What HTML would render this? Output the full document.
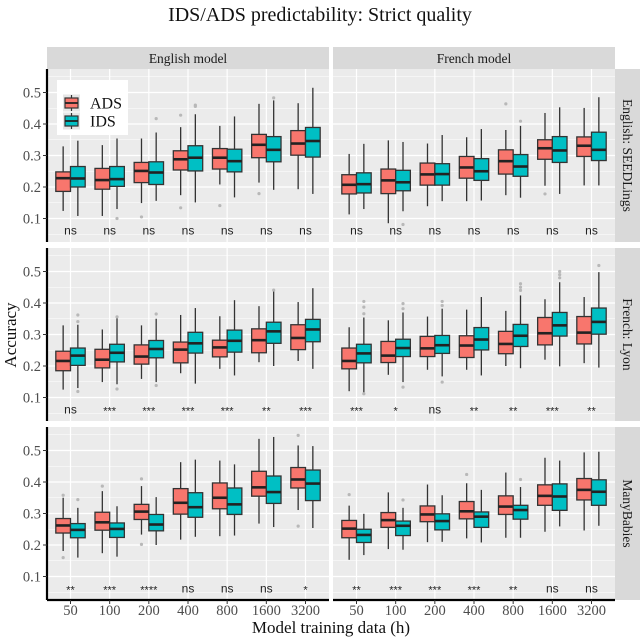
<!DOCTYPE html>
<html><head><meta charset="utf-8"><style>
html,body{margin:0;padding:0;background:#fff}
svg{display:block}
text{font-family:"Liberation Serif",serif}
</style></head><body>
<svg id="chart" width="640" height="640" viewBox="0 0 640 640" xmlns="http://www.w3.org/2000/svg">
<text x="320" y="21" font-size="20" text-anchor="middle" fill="#111">IDS/ADS predictability: Strict quality</text>
<text x="331" y="633" font-size="17" text-anchor="middle" fill="#111">Model training data (h)</text>
<text transform="translate(16,335) rotate(-90)" font-size="17" text-anchor="middle" fill="#111">Accuracy</text>
</svg>
<script>
const categories = ["50","100","200","400","800","1600","3200"];
const yTicks = [0.1,0.2,0.3,0.4,0.5];
const yTickLabels = ["0.1","0.2","0.3","0.4","0.5"];
const colLabels = ["English model","French model"];
const rowLabels = ["English: SEEDLings","French: Lyon","ManyBabies"];
// [low whisker, q1, median, q3, high whisker]
const seedEngADS = [[0.124,0.186,0.228,0.248,0.329],[0.108,0.193,0.222,0.259,0.333],[0.149,0.214,0.251,0.278,0.354],[0.174,0.254,0.288,0.315,0.39],[0.208,0.257,0.293,0.322,0.394],[0.214,0.293,0.334,0.367,0.464],[0.193,0.301,0.338,0.379,0.466]];
const seedEngIDS = [[0.108,0.2,0.227,0.265,0.347],[0.13,0.202,0.225,0.265,0.354],[0.156,0.208,0.246,0.28,0.373],[0.151,0.251,0.293,0.331,0.431],[0.167,0.248,0.282,0.32,0.424],[0.191,0.28,0.318,0.36,0.475],[0.178,0.295,0.346,0.389,0.515]];
const seedFreADS = [[0.113,0.178,0.207,0.239,0.305],[0.085,0.179,0.221,0.257,0.348],[0.139,0.206,0.24,0.276,0.338],[0.155,0.228,0.262,0.297,0.358],[0.174,0.241,0.282,0.318,0.381],[0.204,0.288,0.323,0.35,0.435],[0.205,0.297,0.331,0.359,0.451]];
const seedFreIDS = [[0.13,0.181,0.209,0.245,0.337],[0.123,0.188,0.215,0.253,0.343],[0.155,0.206,0.241,0.274,0.365],[0.157,0.221,0.25,0.29,0.384],[0.166,0.234,0.265,0.303,0.394],[0.178,0.278,0.316,0.36,0.453],[0.205,0.284,0.318,0.374,0.485]];
const lyonEngADS = [[0.125,0.185,0.216,0.247,0.329],[0.149,0.194,0.22,0.253,0.316],[0.159,0.206,0.23,0.267,0.329],[0.177,0.21,0.252,0.276,0.362],[0.191,0.229,0.259,0.282,0.358],[0.212,0.242,0.282,0.318,0.39],[0.216,0.252,0.289,0.331,0.403]];
const lyonEngIDS = [[0.13,0.202,0.233,0.257,0.331],[0.142,0.213,0.242,0.269,0.354],[0.149,0.226,0.254,0.281,0.35],[0.144,0.241,0.272,0.307,0.384],[0.17,0.244,0.28,0.314,0.409],[0.2,0.272,0.31,0.339,0.437],[0.191,0.277,0.316,0.348,0.447]];
const lyonFreADS = [[0.12,0.191,0.216,0.257,0.323],[0.172,0.211,0.233,0.278,0.345],[0.188,0.23,0.256,0.294,0.357],[0.188,0.227,0.265,0.296,0.379],[0.2,0.239,0.27,0.31,0.375],[0.22,0.267,0.304,0.354,0.412],[0.209,0.27,0.306,0.357,0.419]];
const lyonFreIDS = [[0.115,0.21,0.24,0.269,0.354],[0.149,0.23,0.257,0.285,0.37],[0.167,0.24,0.266,0.297,0.382],[0.17,0.251,0.284,0.322,0.419],[0.193,0.262,0.296,0.332,0.424],[0.199,0.295,0.329,0.37,0.466],[0.195,0.301,0.34,0.384,0.498]];
const mbEngADS = [[0.181,0.238,0.262,0.284,0.35],[0.174,0.247,0.272,0.304,0.371],[0.233,0.281,0.306,0.329,0.387],[0.217,0.298,0.334,0.379,0.463],[0.228,0.315,0.35,0.397,0.468],[0.268,0.355,0.383,0.434,0.537],[0.311,0.381,0.408,0.446,0.516]];
const mbEngIDS = [[0.16,0.223,0.248,0.268,0.318],[0.163,0.224,0.251,0.27,0.323],[0.2,0.245,0.265,0.297,0.352],[0.226,0.288,0.32,0.366,0.471],[0.23,0.297,0.329,0.381,0.456],[0.257,0.332,0.368,0.419,0.543],[0.254,0.341,0.395,0.438,0.514]];
const mbFreADS = [[0.153,0.223,0.252,0.278,0.325],[0.187,0.256,0.279,0.303,0.367],[0.209,0.274,0.297,0.324,0.392],[0.221,0.283,0.307,0.338,0.396],[0.223,0.297,0.322,0.356,0.43],[0.242,0.326,0.356,0.391,0.477],[0.246,0.343,0.375,0.411,0.494]];
const mbFreIDS = [[0.168,0.208,0.232,0.25,0.299],[0.185,0.23,0.261,0.276,0.318],[0.21,0.248,0.276,0.299,0.358],[0.208,0.256,0.29,0.305,0.375],[0.223,0.282,0.311,0.326,0.384],[0.259,0.31,0.354,0.394,0.468],[0.261,0.326,0.369,0.407,0.496]];
// outliers: [category index, value]
const seedEngADSOut = [[2,0.105],[3,0.428],[3,0.134],[4,0.141],[5,0.179]];
const seedEngIDSOut = [[1,0.1],[2,0.417],[3,0.46],[3,0.456],[5,0.483]];
const seedFreADSOut = [[4,0.464],[5,0.178]];
const seedFreIDSOut = [[1,0.081],[4,0.409]];
const lyonEngADSOut = [];
const lyonEngIDSOut = [[0,0.362],[0,0.341],[0,0.119],[1,0.356],[1,0.127],[2,0.365],[2,0.138],[5,0.441]];
const lyonFreADSOut = [];
const lyonFreIDSOut = [[0,0.405],[0,0.387],[0,0.366],[0,0.112],[1,0.398],[1,0.382],[1,0.133],[2,0.405],[2,0.392],[2,0.149],[4,0.461],[4,0.45],[4,0.44],[5,0.5],[5,0.49],[5,0.48],[6,0.519]];
const mbEngADSOut = [[0,0.358],[0,0.16],[1,0.387],[2,0.41],[2,0.202],[6,0.548],[6,0.26]];
const mbEngIDSOut = [[0,0.344]];
const mbFreADSOut = [[0,0.36],[3,0.424]];
const mbFreIDSOut = [[1,0.343],[4,0.408]];
const seedEngSig = ["ns","ns","ns","ns","ns","ns","ns"];
const seedFreSig = ["ns","ns","ns","ns","ns","ns","ns"];
const lyonEngSig = ["ns","***","***","***","***","**","***"];
const lyonFreSig = ["***","*","ns","**","**","***","**"];
const mbEngSig = ["**","***","****","ns","ns","ns","*"];
const mbFreSig = ["**","***","***","***","**","ns","ns"];

const panels = [
 [seedEngADS,seedEngIDS,seedEngADSOut,seedEngIDSOut,seedEngSig],
 [seedFreADS,seedFreIDS,seedFreADSOut,seedFreIDSOut,seedFreSig],
 [lyonEngADS,lyonEngIDS,lyonEngADSOut,lyonEngIDSOut,lyonEngSig],
 [lyonFreADS,lyonFreIDS,lyonFreADSOut,lyonFreIDSOut,lyonFreSig],
 [mbEngADS,mbEngIDS,mbEngADSOut,mbEngIDSOut,mbEngSig],
 [mbFreADS,mbFreIDS,mbFreADSOut,mbFreIDSOut,mbFreSig]
];
const NS="http://www.w3.org/2000/svg";
const svg=document.getElementById("chart");
function mk(tag,attrs,parent,txt){const e=document.createElementNS(NS,tag);for(const k in attrs)e.setAttribute(k,attrs[k]);if(txt!==undefined)e.textContent=txt;(parent||svg).appendChild(e);return e;}
const colX=[47,333], panelW=282, rowY=[69,248,427], panelH=173;
const colors=["#F8766D","#00BFC4"];
function xScale(c,i){const u=panelW/7.2;return colX[c]+(0.6+i)*u;}
function yScale(r,v){return rowY[r]+23.5+(0.5-v)*315;}
for(let c=0;c<2;c++){
 const s=mk("rect",{x:colX[c],y:47,width:panelW,height:22,fill:"#d9d9d9"});
 
 
 const t=mk("text",{x:colX[c]+panelW/2,y:63,"font-size":13.5,"text-anchor":"middle",fill:"#1a1a1a"},null,colLabels[c]);
 
 
}
for(let r=0;r<3;r++){
 const s=mk("rect",{x:615,y:rowY[r],width:25,height:panelH,fill:"#d9d9d9"});
 
 
 const cy=rowY[r]+panelH/2;
 const t=mk("text",{transform:`translate(623,${cy}) rotate(90)`,"font-size":13.5,"text-anchor":"middle",fill:"#1a1a1a"},null,rowLabels[r]);
 
 
}
panels.forEach((p,pi)=>{
 const r=Math.floor(pi/2), c=pi%2;
 const g=mk("g",{});
 
 
 mk("rect",{x:colX[c],y:rowY[r],width:panelW,height:panelH,fill:"#ebebeb"},g);
 for(let k=0;k<yTicks.length;k++){
  const y=yScale(r,yTicks[k]);
  const ym=yScale(r,yTicks[k]-0.05);
  if(ym<rowY[r]+panelH) mk("line",{x1:colX[c],x2:colX[c]+panelW,y1:ym,y2:ym,stroke:"#fff","stroke-width":0.6},g);
  mk("line",{x1:colX[c],x2:colX[c]+panelW,y1:y,y2:y,stroke:"#fff","stroke-width":1.2},g);
 }
 const ym=yScale(r,0.55); mk("line",{x1:colX[c],x2:colX[c]+panelW,y1:ym,y2:ym,stroke:"#fff","stroke-width":0.6},g);
 categories.forEach((cat,i)=>{const x=xScale(c,i);mk("line",{x1:x,x2:x,y1:rowY[r],y2:rowY[r]+panelH,stroke:"#fff","stroke-width":1.2},g);});
 [0,1].forEach(s=>{
  const data=p[s], outs=p[2+s];
  const u=panelW/7.2, w=0.375*u;
  data.forEach((d,i)=>{
   const cx=xScale(c,i)+(s===0?-1:1)*w/2;
   const bg=mk("g",{},g);
   
   
   mk("line",{x1:cx,x2:cx,y1:yScale(r,d[0]),y2:yScale(r,d[4]),stroke:"#333","stroke-width":1.3},bg);
   mk("rect",{x:cx-w/2,y:yScale(r,d[3]),width:w,height:yScale(r,d[1])-yScale(r,d[3]),fill:colors[s],stroke:"#333","stroke-width":1.3},bg);
   mk("line",{x1:cx-w/2,x2:cx+w/2,y1:yScale(r,d[2]),y2:yScale(r,d[2]),stroke:"#222","stroke-width":2.6},bg);
  });
  outs.forEach(o=>{
   const cx=xScale(c,o[0])+(s===0?-1:1)*w/2;
   const pt=mk("circle",{cx:cx,cy:yScale(r,o[1]),r:1.6,fill:"#b8b8b8"},g);
   
   
  });
 });
 p[4].forEach((lab,i)=>{
  const isNs=lab==="ns";
  const t=mk("text",{x:xScale(c,i),y:yScale(r,0.062)+(isNs?4:5),"font-size":isNs?12:11,"text-anchor":"middle",fill:"#222",style:"font-family:'Liberation Sans',sans-serif"},g,lab);
  
  
 });
 if(c===0){
  mk("line",{x1:47,x2:47,y1:rowY[r],y2:rowY[r]+panelH,stroke:"#000","stroke-width":2.2},svg);
  yTicks.forEach((v,k)=>{
   const y=yScale(r,v);
   mk("line",{x1:43,x2:47,y1:y,y2:y,stroke:"#333","stroke-width":1});
   const t=mk("text",{x:41,y:y+5,"font-size":14.5,"text-anchor":"end",fill:"#4d4d4d"},null,yTickLabels[k]);
   
   
  });
 }
});
for(let c=0;c<2;c++){
 mk("line",{x1:colX[c],x2:colX[c]+panelW,y1:600,y2:600,stroke:"#000","stroke-width":2.2});
 categories.forEach((cat,i)=>{
  const x=xScale(c,i);
  mk("line",{x1:x,x2:x,y1:600,y2:604,stroke:"#333","stroke-width":1});
  const t=mk("text",{x:x,y:615,"font-size":14.5,"text-anchor":"middle",fill:"#4d4d4d"},null,cat);
  
  
 });
}
const lg=mk("g",{});


mk("rect",{x:57,y:80,width:71,height:55,fill:"#fff"},lg);
["ADS","IDS"].forEach((lab,k)=>{
 const cy=103+k*18;
 const e=mk("g",{},lg);
 
 
 mk("rect",{x:63,y:cy-8.5,width:17,height:17,fill:"#e6e6e6"},e);
 mk("line",{x1:71.5,x2:71.5,y1:cy-8,y2:cy+8,stroke:"#333","stroke-width":1.2},e);
 mk("rect",{x:65,y:cy-5,width:13,height:10,fill:colors[k],stroke:"#333","stroke-width":1.2},e);
 mk("line",{x1:65,x2:78,y1:cy,y2:cy,stroke:"#222","stroke-width":1.8},e);
 mk("text",{x:90,y:cy+5.5,"font-size":16,fill:"#111"},e,lab);
});
</script>
</body></html>
